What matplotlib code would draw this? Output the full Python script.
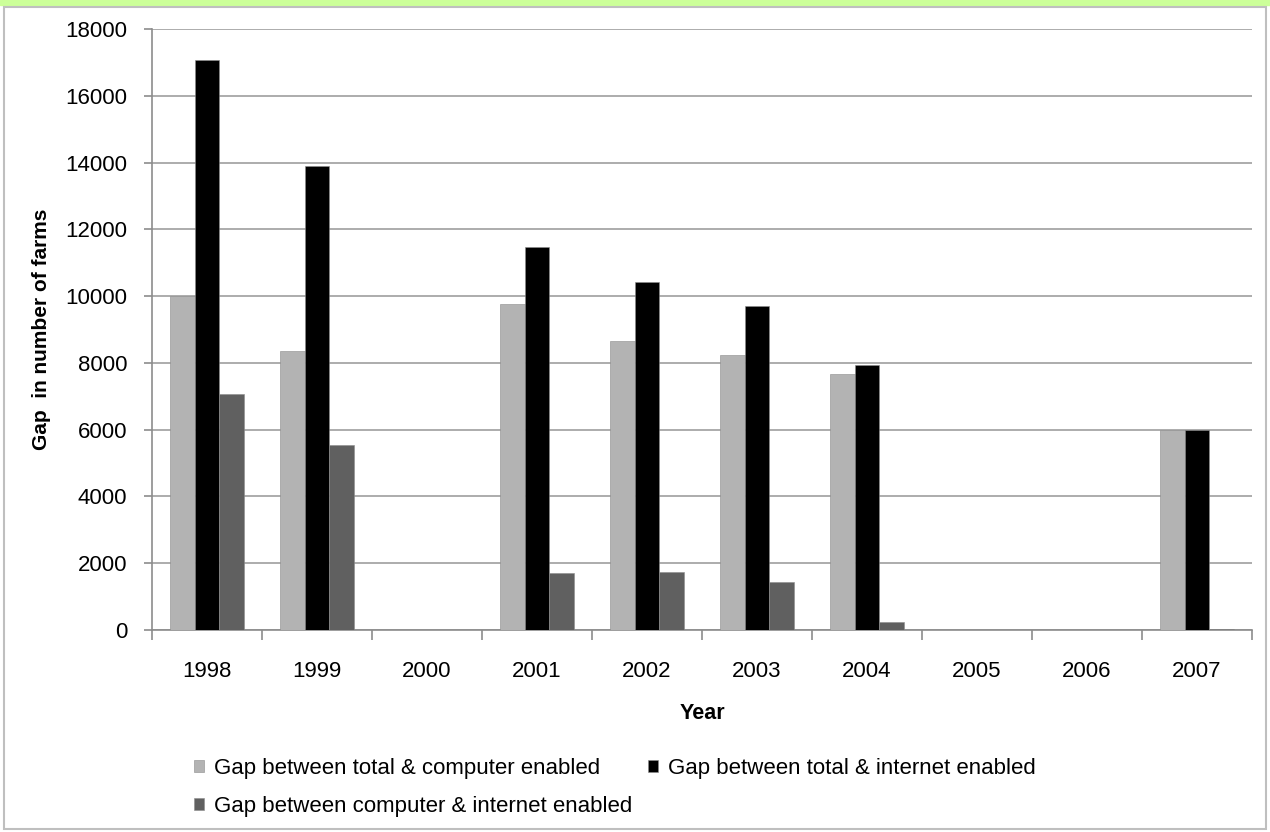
import matplotlib.pyplot as plt
import numpy as np
from matplotlib.patches import Rectangle

years = ["1998", "1999", "2000", "2001", "2002", "2003", "2004", "2005", "2006", "2007"]
total_vs_computer = [10000, 8350, 0, 9760, 8650, 8230, 7660, 0, 0, 5990]
total_vs_internet = [17070, 13890, 0, 11470, 10420, 9700, 7930, 0, 0, 6000]
computer_vs_internet = [7070, 5540, 0, 1710, 1740, 1440, 250, 0, 0, 40]

series_labels = [
    "Gap between total & computer enabled",
    "Gap between total & internet enabled",
    "Gap between computer & internet enabled",
]
colors = ["#b3b3b3", "#000000", "#606060"]

plt.rcParams["font.family"] = ["Liberation Sans", "DejaVu Sans"]

fig = plt.figure(figsize=(12.7, 8.32), dpi=100)
ax = fig.add_axes([0.1197, 0.2428, 0.8661, 0.7223])

x = np.arange(len(years))
w = 0.223
bars = []
for i, (vals, col) in enumerate(zip([total_vs_computer, total_vs_internet, computer_vs_internet], colors)):
    b = ax.bar(x + (i - 1) * w, vals, width=w, color=col, edgecolor="#8c8c8c", linewidth=0.4,
               label=series_labels[i], zorder=3)
    bars.append(b)

ax.set_xlim(-0.5, len(years) - 0.5)
ax.set_ylim(0, 18000)
ax.set_yticks(range(0, 18001, 2000))
ax.yaxis.grid(True, color="#a6a6a6", linewidth=1.3, zorder=0)

ax.set_xticks(x)
ax.set_xticklabels(years)
ax.set_xticks(np.arange(-0.5, len(years)), minor=True)
ax.tick_params(axis="x", which="major", length=0, pad=22.5, labelsize=16)
ax.tick_params(axis="x", which="minor", length=7, color="#8c8c8c", width=1.2)
ax.tick_params(axis="y", length=6, color="#8c8c8c", width=1.2, pad=12, labelsize=16)

for side in ["top", "right"]:
    ax.spines[side].set_visible(False)
for side in ["left", "bottom"]:
    ax.spines[side].set_color("#8c8c8c")
    ax.spines[side].set_linewidth(1.2)

ax.set_xlabel("Year", fontsize=15.5, fontweight="bold", labelpad=15)
ax.set_ylabel("Gap  in number of farms", fontsize=15, fontweight="bold", labelpad=10)

# column-major legend filling: order so first row holds series 1 and 2
handles = [bars[0], bars[2], bars[1]]
fig.legend(handles, [series_labels[0], series_labels[2], series_labels[1]],
           ncol=2, loc="upper left", bbox_to_anchor=(0.144, 0.1024), frameon=False,
           fontsize=16, handlelength=0.45, handleheight=0.45, handletextpad=0.45,
           columnspacing=0.7, labelspacing=0.78, borderpad=0)

# page frame
fig.patches.append(Rectangle((0, 0.994), 1, 0.006, transform=fig.transFigure,
                             color="#ccff99", zorder=0))
fig.patches.append(Rectangle((0.003, 0.004), 0.994, 0.988, transform=fig.transFigure,
                             fill=False, edgecolor="#bfbfbf", linewidth=1.5, zorder=0))

fig.savefig("out.png", dpi=100)
